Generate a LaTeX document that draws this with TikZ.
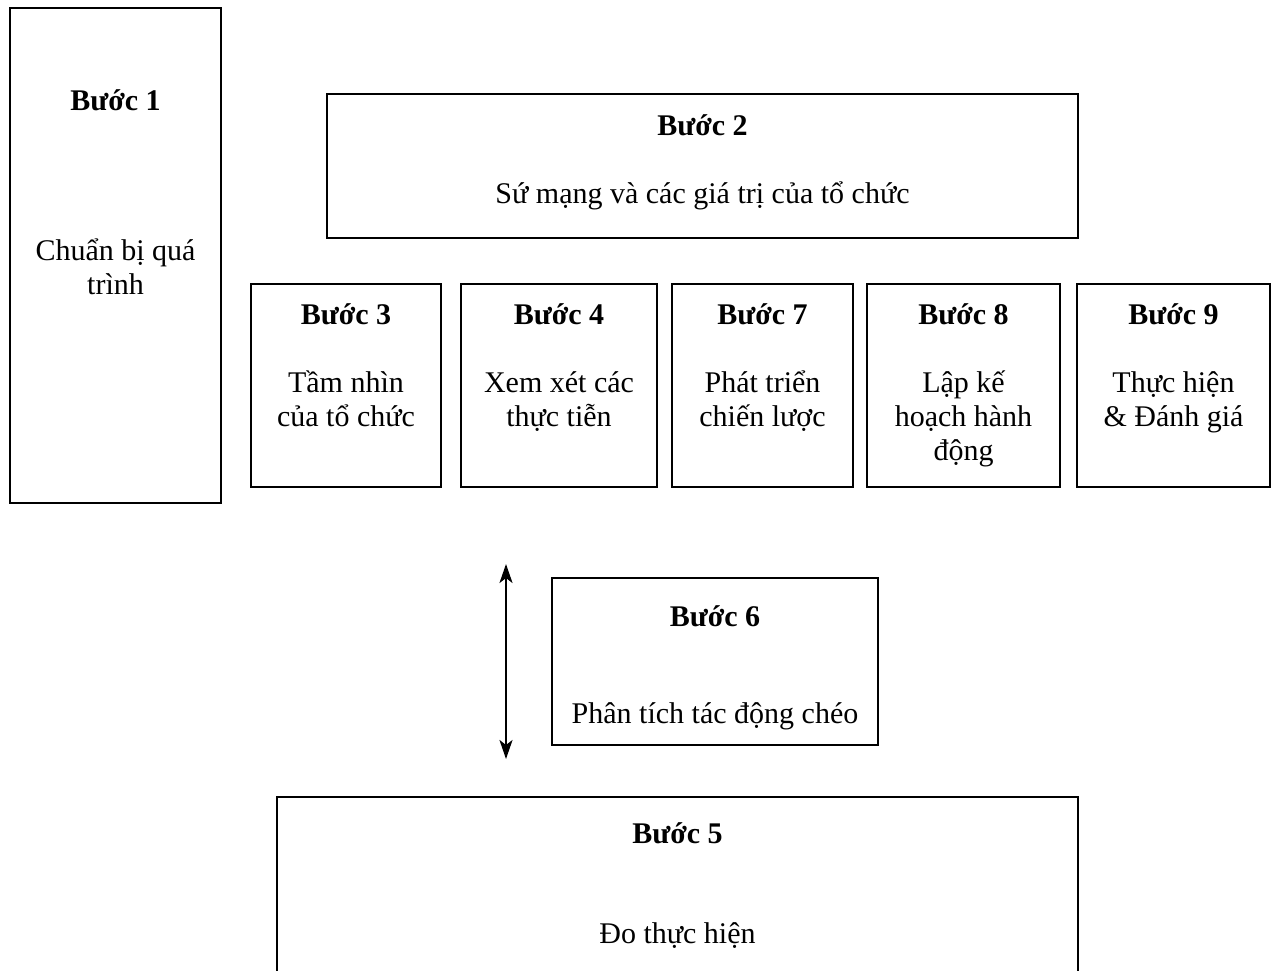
\documentclass[tikz,border=0pt]{standalone}
\usepackage{fontspec}
\setmainfont{Liberation Serif}
\usetikzlibrary{arrows.meta}
\begin{document}
\begin{tikzpicture}[x=1pt,y=-1pt,
  stepbox/.style={draw=black, line width=2.3pt, rectangle, inner sep=0pt},
  txt/.style={anchor=base, align=center, inner sep=0pt, font=\fontsize{30}{34}\selectfont},
  ttl/.style={txt, font=\fontsize{30}{34}\selectfont\bfseries},
  arr/.style={line width=2.3pt, >={Stealth[length=19pt,width=13pt,inset=5pt]}, <->}]
\useasboundingbox (0,0) rectangle (1277,970);
\fill[white] (0,0) rectangle (1277,970);
% boxes
\node[stepbox, minimum width=211pt, minimum height=495pt] (b1) at (115.5,255.5) {};
\node[stepbox, minimum width=751pt, minimum height=144pt] (b2) at (702.5,166) {};
\node[stepbox, minimum width=190pt, minimum height=203pt] (b3) at (346,385.5) {};
\node[stepbox, minimum width=196pt, minimum height=203pt] (b4) at (559,385.5) {};
\node[stepbox, minimum width=181pt, minimum height=203pt] (b7) at (762.5,385.5) {};
\node[stepbox, minimum width=193pt, minimum height=203pt] (b8) at (963.5,385.5) {};
\node[stepbox, minimum width=193pt, minimum height=203pt] (b9) at (1173.5,385.5) {};
\node[stepbox, minimum width=326pt, minimum height=167pt] (b6) at (715,661.5) {};
\node[stepbox, minimum width=801pt, minimum height=200pt] (b5) at (677.5,897) {};
% texts (multi-line nodes: base anchor = last line)
\node[ttl] (t1) at (115.5,110) {Bước 1};
\node[txt] (d1) at (115.5,294) {Chuẩn bị quá\\trình};
\node[ttl] (t2) at (702.5,135) {Bước 2};
\node[txt] (d2) at (702.5,203) {Sứ mạng và các giá trị của tổ chức};
\node[ttl] (t3) at (346,324) {Bước 3};
\node[txt] (d3) at (346,426) {Tầm nhìn\\của tổ chức};
\node[ttl] (t4) at (559,324) {Bước 4};
\node[txt] (d4) at (559,426) {Xem xét các\\thực tiễn};
\node[ttl] (t7) at (762.5,324) {Bước 7};
\node[txt] (d7) at (762.5,426) {Phát triển\\chiến lược};
\node[ttl] (t8) at (963.5,324) {Bước 8};
\node[txt] (d8) at (963.5,460) {Lập kế\\hoạch hành\\động};
\node[ttl] (t9) at (1173.5,324) {Bước 9};
\node[txt] (d9) at (1173.5,426) {Thực hiện\\\& Đánh giá};
\node[ttl] (t6) at (715,626) {Bước 6};
\node[txt] (d6) at (715,723) {Phân tích tác động chéo};
\node[ttl] (t5) at (677.5,843) {Bước 5};
\node[txt] (d5) at (677.5,943) {Đo thực hiện};
% arrow
\coordinate (a1) at (506,564);
\coordinate (a2) at (506,759);
\draw[arr] (a1) -- (a2);
\end{tikzpicture}
\end{document}
